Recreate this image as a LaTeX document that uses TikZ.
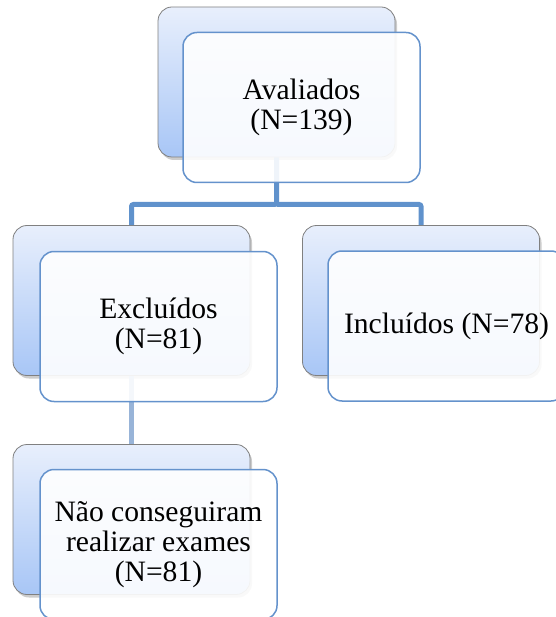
\documentclass[tikz,border=0pt]{standalone}
\usepackage{fontspec}
\setmainfont{Liberation Serif}
\usetikzlibrary{positioning,shadows}
\definecolor{backtop}{RGB}{232,239,252}
\definecolor{backbot}{RGB}{168,198,246}
\definecolor{frontline}{RGB}{100,146,204}
\definecolor{busblue}{RGB}{96,146,204}
\definecolor{linkblue}{RGB}{152,180,216}
\begin{document}
\begin{tikzpicture}[x=1pt,y=-1pt,
  back/.style={draw=black!50,line width=0.8pt,rounded corners=14pt,minimum width=237pt,minimum height=150pt,inner sep=0pt,
    top color=backtop,bottom color=backbot,drop shadow={shadow xshift=2pt,shadow yshift=-3pt,opacity=0.4}},
  front/.style={draw=frontline,line width=1.5pt,rounded corners=14pt,fill=white,fill opacity=0.9,text opacity=1,
    minimum width=237pt,minimum height=150pt,inner sep=0pt,align=center,font=\fontsize{29.6}{30}\selectfont},
  bus/.style={draw=busblue,line width=5pt,rounded corners=2pt},
  link/.style={draw=linkblue,line width=5pt}
]
\useasboundingbox (0,0) rectangle (555,617);
% back boxes
\node[back] (avb) at (276.5,82) {};
\node[back] (excb) at (131.5,300.5) {};
\node[back] (incb) at (421,300.5) {};
\node[back] (naob) at (131.5,519.5) {};
% connectors
\coordinate (bus) at (276.5,204.5);
\draw[bus] (avb.south) -- (bus) -| (excb.north);
\draw[bus] (bus) -| (incb.north);
\draw[link] (excb.south) -- (naob.north);
% front boxes
\node[front] (avf) at (301.5,107.5) {Avaliados\\(N=139)};
\node[front] (excf) at (158.5,326.5) {Excluídos\\(N=81)};
\node[front] (incf) at (446.5,326) {Incluídos (N=78)};
\node[front] (naof) at (158.5,544.5) {Não conseguiram\\realizar exames\\(N=81)};
\end{tikzpicture}
\end{document}
